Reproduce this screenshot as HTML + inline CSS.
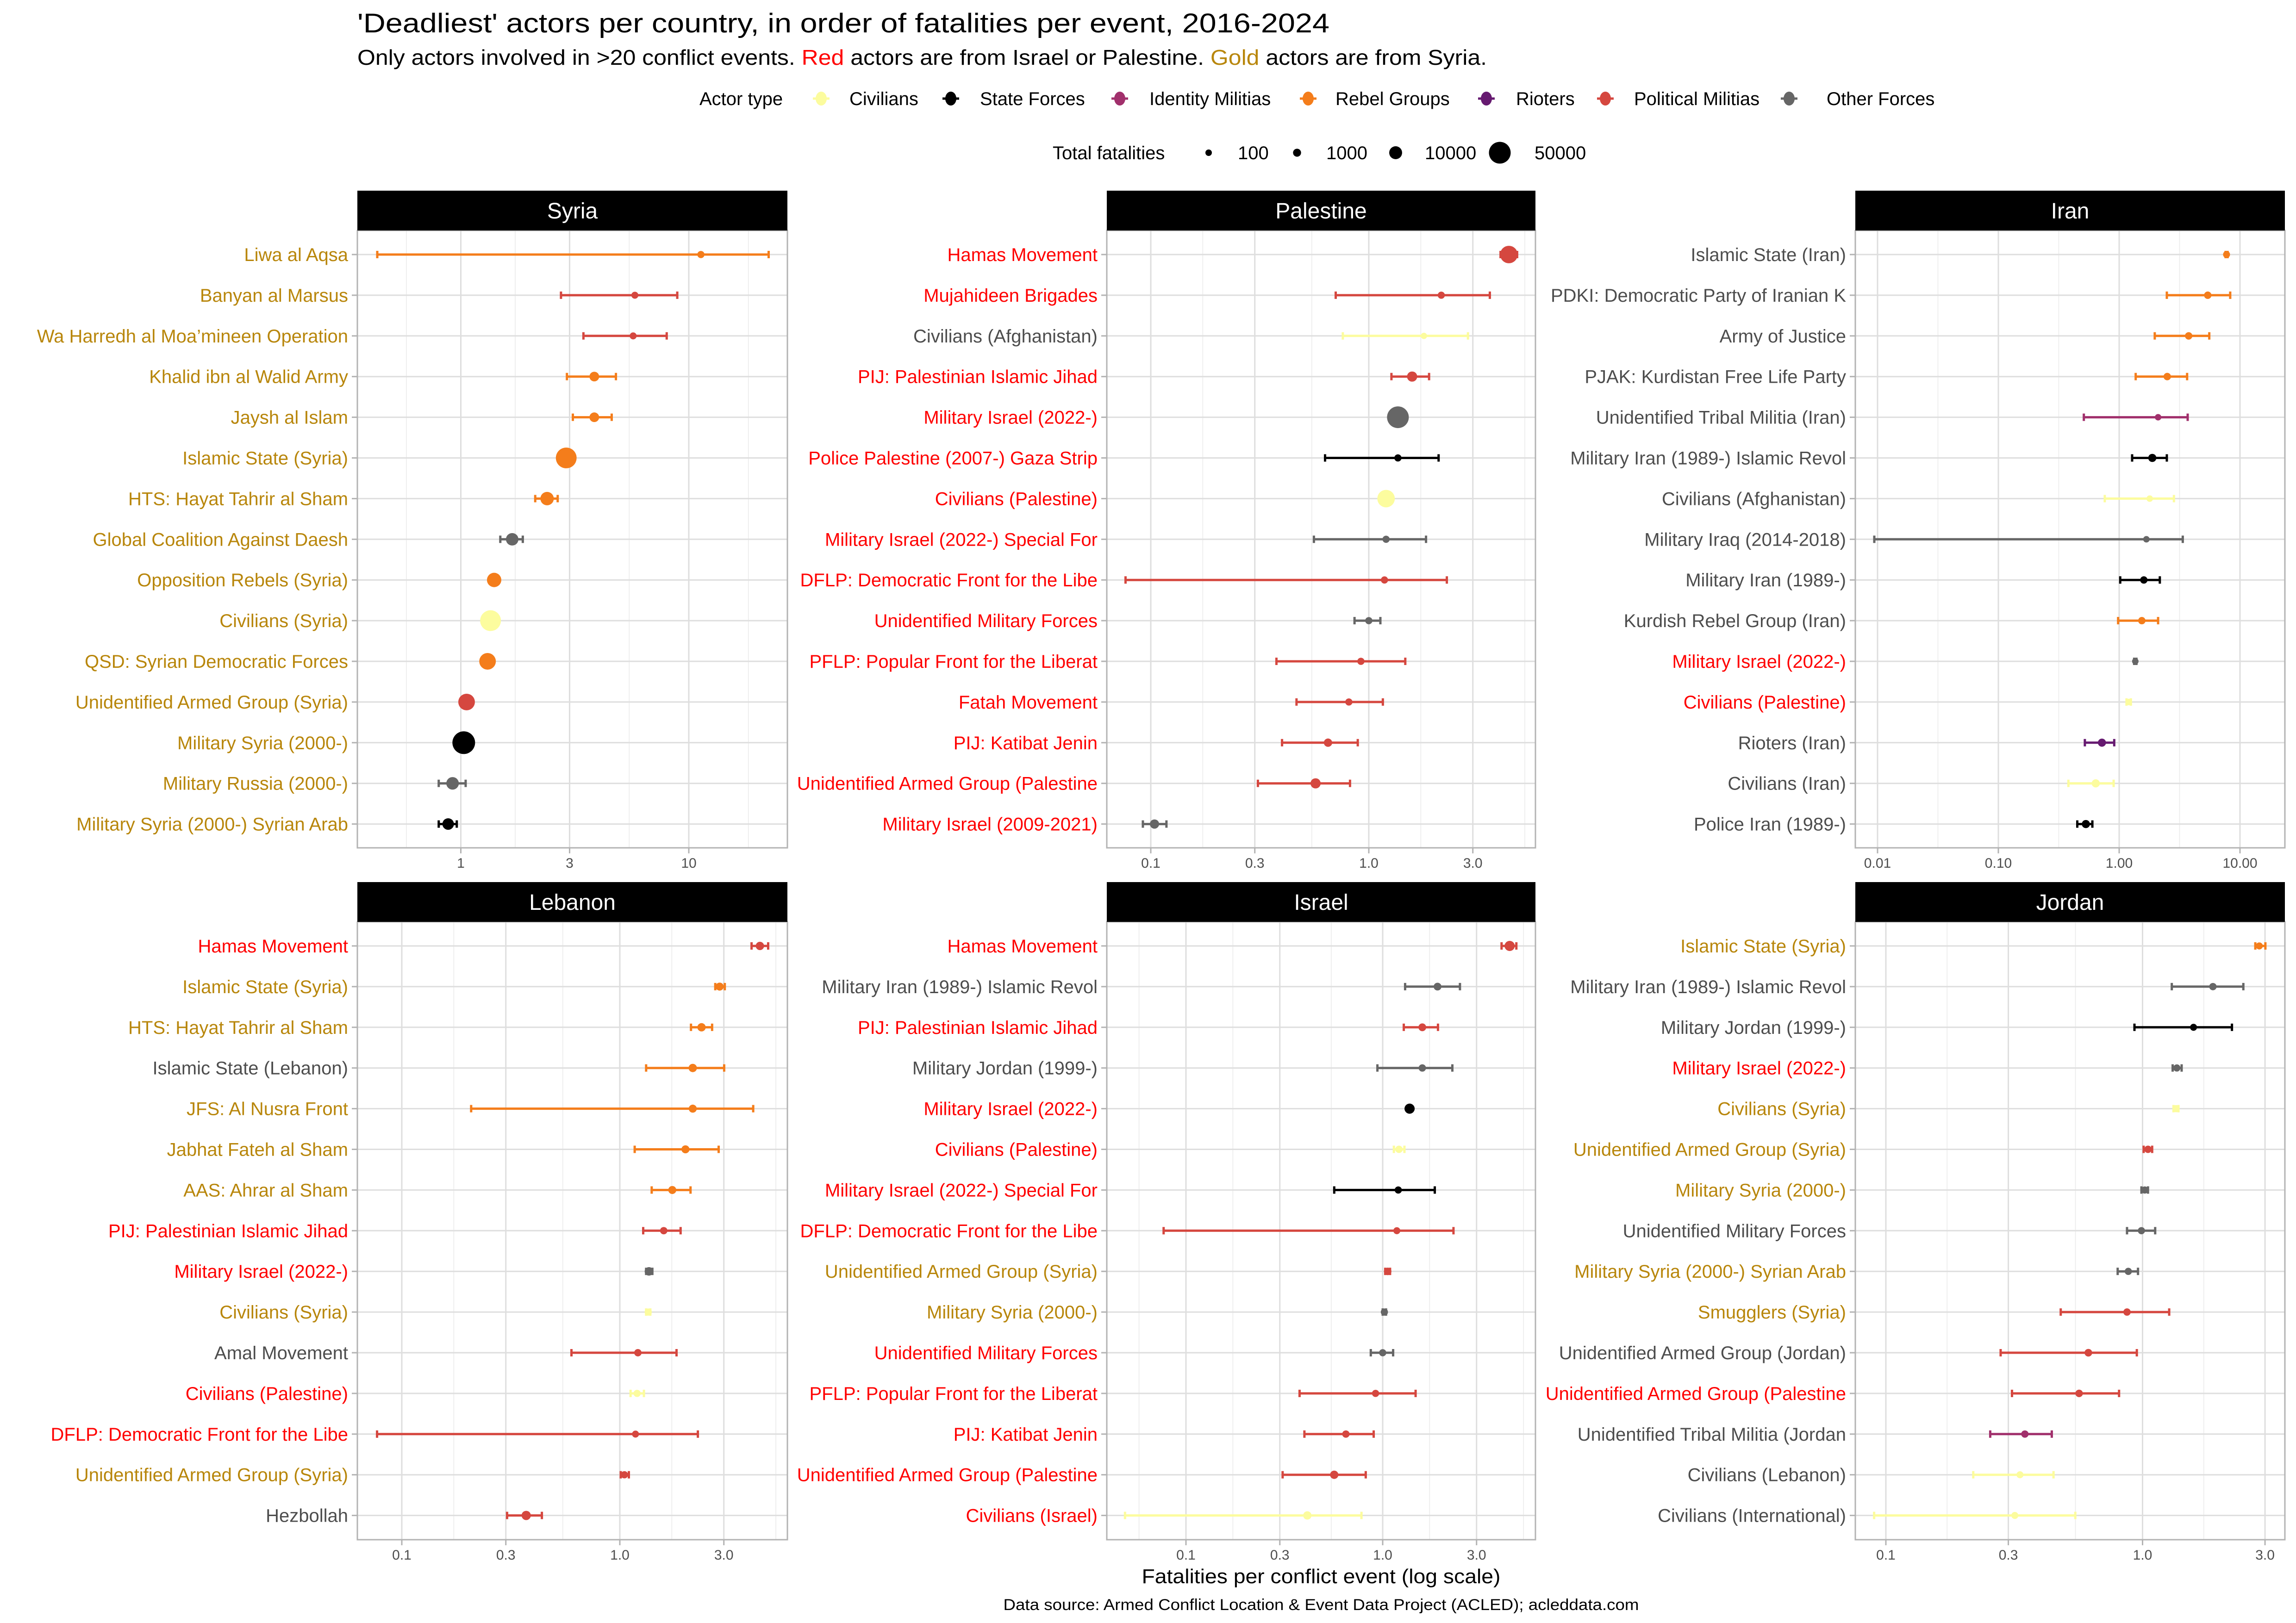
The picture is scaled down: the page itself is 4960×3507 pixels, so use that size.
<!DOCTYPE html>
<html><head><meta charset="utf-8"><title>Deadliest actors per country</title>
<style>
html,body{margin:0;padding:0;background:#fff;}
svg{display:block;font-family:"Liberation Sans",Arial,sans-serif;}
</style></head>
<body>
<svg id="chart" width="4960" height="3507" viewBox="0 0 4960 3507" xmlns="http://www.w3.org/2000/svg">
<rect width="4960" height="3507" fill="#fff"/>
<text x="772" y="70" font-size="58" fill="#000" textLength="2100" lengthAdjust="spacingAndGlyphs">'Deadliest' actors per country, in order of fatalities per event, 2016-2024</text>
<text x="772" y="140" font-size="46" fill="#000" textLength="2440" lengthAdjust="spacingAndGlyphs">Only actors involved in &gt;20 conflict events. <tspan fill="#FF0000">Red</tspan> actors are from Israel or Palestine. <tspan fill="#B8860B">Gold</tspan> actors are from Syria.</text>
<g id="legend"></g>
<g id="panels"></g>
<text x="2854" y="3421" font-size="44" text-anchor="middle" fill="#000" textLength="775" lengthAdjust="spacingAndGlyphs">Fatalities per conflict event (log scale)</text>
<text x="2854" y="3479" font-size="34" text-anchor="middle" fill="#000" textLength="1373" lengthAdjust="spacingAndGlyphs">Data source: Armed Conflict Location &amp; Event Data Project (ACLED); acleddata.com</text>
</svg>
<script>
// ---- categories ----
const actorTypes = ["Civilians","State Forces","Identity Militias","Rebel Groups","Rioters","Political Militias","Other Forces"];
const actorCodes = ["C","S","I","R","T","P","O"];
const sizeBreaks = [100,1000,10000,50000];
const sizeBreakLabels = ["100","1000","10000","50000"];

// ---- Syria ----
const syriaLabels = ["Liwa al Aqsa","Banyan al Marsus","Wa Harredh al Moa’mineen Operation ","Khalid ibn al Walid Army","Jaysh al Islam","Islamic State (Syria)","HTS: Hayat Tahrir al Sham","Global Coalition Against Daesh","Opposition Rebels (Syria)","Civilians (Syria)","QSD: Syrian Democratic Forces","Unidentified Armed Group (Syria)","Military Syria (2000-)","Military Russia (2000-)","Military Syria (2000-) Syrian Arab "];
const syriaOrigins = ["g","g","g","g","g","g","g","g","g","g","g","g","g","g","g"];
const syriaTypes = ["R","P","P","R","R","R","R","O","R","C","R","P","S","O","S"];
const syriaMeans = [11.3,5.8,5.7,3.85,3.85,2.9,2.39,1.68,1.40,1.35,1.31,1.06,1.03,0.92,0.88];
const syriaLows = [0.43,2.75,3.45,2.92,3.1,2.88,2.12,1.49,1.39,1.34,1.30,1.05,1.02,0.80,0.80];
const syriaHighs = [22.4,8.9,8.0,4.79,4.59,2.92,2.66,1.87,1.41,1.36,1.32,1.07,1.04,1.05,0.96];
const syriaFatalities = [400,300,300,3000,3000,44000,11500,8800,14500,44000,23000,23000,56000,9000,6500];
const syriaTicks = [1,3,10];
const syriaTickLabels = ["1","3","10"];

// ---- Palestine ----
const palLabels = ["Hamas Movement","Mujahideen Brigades","Civilians (Afghanistan)","PIJ: Palestinian Islamic Jihad","Military Israel (2022-)","Police Palestine (2007-) Gaza Strip","Civilians (Palestine)","Military Israel (2022-) Special For","DFLP: Democratic Front for the Libe","Unidentified Military Forces","PFLP: Popular Front for the Liberat","Fatah Movement","PIJ: Katibat Jenin","Unidentified Armed Group (Palestine","Military Israel (2009-2021)"];
const palOrigins = ["r","r","n","r","r","r","r","r","r","r","r","r","r","r","r"];
const palTypes = ["P","P","C","P","O","S","C","O","P","O","P","P","P","P","O"];
const palMeans = [4.39,2.15,1.79,1.58,1.36,1.36,1.20,1.20,1.18,1.0,0.92,0.81,0.65,0.57,0.104];
const palLows = [4.02,0.705,0.76,1.27,1.35,0.63,1.19,0.56,0.0766,0.86,0.377,0.466,0.40,0.31,0.092];
const palHighs = [4.79,3.59,2.85,1.89,1.37,2.09,1.21,1.83,2.28,1.13,1.47,1.16,0.89,0.82,0.118];
const palFatalities = [27000,400,60,3800,50000,400,27000,400,400,400,400,400,1300,3800,2400];
const palTicks = [0.1,0.3,1,3];
const palTickLabels = ["0.1","0.3","1.0","3.0"];

// ---- Iran ----
const iranLabels = ["Islamic State (Iran)","PDKI: Democratic Party of Iranian K","Army of Justice","PJAK: Kurdistan Free Life Party","Unidentified Tribal Militia (Iran)","Military Iran (1989-) Islamic Revol","Civilians (Afghanistan)","Military Iraq (2014-2018)","Military Iran (1989-)","Kurdish Rebel Group (Iran)","Military Israel (2022-)","Civilians (Palestine)","Rioters (Iran)","Civilians (Iran)","Police Iran (1989-)"];
const iranOrigins = ["n","n","n","n","n","n","n","n","n","n","r","r","n","n","n"];
const iranTypes = ["R","R","R","R","I","S","C","O","S","R","O","C","T","C","S"];
const iranMeans = [7.74,5.41,3.76,2.5,2.10,1.88,1.79,1.68,1.60,1.54,1.36,1.20,0.72,0.64,0.53];
const iranLows = [7.6,2.48,1.97,1.37,0.51,1.28,0.76,0.0094,1.02,0.98,1.33,1.15,0.52,0.38,0.45];
const iranHighs = [7.9,8.3,5.57,3.65,3.69,2.48,2.84,3.36,2.17,2.10,1.39,1.25,0.91,0.90,0.60];
const iranFatalities = [280,550,550,550,100,1100,100,100,500,500,100,100,1100,1100,1100];
const iranTicks = [0.01,0.1,1,10];
const iranTickLabels = ["0.01","0.10","1.00","10.00"];

// ---- Lebanon ----
const lebLabels = ["Hamas Movement","Islamic State (Syria)","HTS: Hayat Tahrir al Sham","Islamic State (Lebanon)","JFS: Al Nusra Front","Jabhat Fateh al Sham","AAS: Ahrar al Sham","PIJ: Palestinian Islamic Jihad","Military Israel (2022-)","Civilians (Syria)","Amal Movement","Civilians (Palestine)","DFLP: Democratic Front for the Libe","Unidentified Armed Group (Syria)","Hezbollah"];
const lebOrigins = ["r","g","g","n","g","g","g","r","r","g","n","r","r","g","n"];
const lebTypes = ["P","R","R","R","R","R","R","P","O","C","P","C","P","P","P"];
const lebMeans = [4.39,2.87,2.37,2.16,2.16,2.0,1.74,1.59,1.36,1.35,1.21,1.20,1.18,1.05,0.372];
const lebLows = [4.02,2.74,2.12,1.32,0.208,1.17,1.40,1.28,1.32,1.32,0.60,1.12,0.077,1.01,0.304];
const lebHighs = [4.79,3.03,2.65,3.01,4.09,2.84,2.11,1.90,1.41,1.38,1.82,1.29,2.28,1.10,0.439];
const lebFatalities = [1300,1000,1300,1300,1000,1000,1000,500,1500,400,500,400,300,400,2400];
const lebTicks = [0.1,0.3,1,3];
const lebTickLabels = ["0.1","0.3","1.0","3.0"];

// ---- Israel ----
const isrLabels = ["Hamas Movement","Military Iran (1989-) Islamic Revol","PIJ: Palestinian Islamic Jihad","Military Jordan (1999-)","Military Israel (2022-)","Civilians (Palestine)","Military Israel (2022-) Special For","DFLP: Democratic Front for the Libe","Unidentified Armed Group (Syria)","Military Syria (2000-)","Unidentified Military Forces","PFLP: Popular Front for the Liberat","PIJ: Katibat Jenin","Unidentified Armed Group (Palestine","Civilians (Israel)"];
const isrOrigins = ["r","n","r","n","r","r","r","r","g","g","r","r","r","r","r"];
const isrTypes = ["P","O","P","O","S","C","S","P","P","O","O","P","P","P","C"];
const isrMeans = [4.42,1.90,1.59,1.59,1.37,1.21,1.20,1.18,1.06,1.02,1.0,0.92,0.65,0.567,0.414];
const isrLows = [4.02,1.30,1.28,0.94,1.34,1.14,0.567,0.077,1.03,1.0,0.87,0.378,0.40,0.31,0.049];
const isrHighs = [4.78,2.47,1.91,2.26,1.40,1.29,1.84,2.29,1.09,1.04,1.13,1.47,0.90,0.82,0.78];
const isrFatalities = [3800,800,800,500,3800,500,400,300,600,400,400,400,500,1300,1300];
const isrTicks = [0.1,0.3,1,3];
const isrTickLabels = ["0.1","0.3","1.0","3.0"];

// ---- Jordan ----
const jorLabels = ["Islamic State (Syria)","Military Iran (1989-) Islamic Revol","Military Jordan (1999-)","Military Israel (2022-)","Civilians (Syria)","Unidentified Armed Group (Syria)","Military Syria (2000-)","Unidentified Military Forces","Military Syria (2000-) Syrian Arab ","Smugglers (Syria)","Unidentified Armed Group (Jordan)","Unidentified Armed Group (Palestine","Unidentified Tribal Militia (Jordan","Civilians (Lebanon)","Civilians (International)"];
const jorOrigins = ["g","n","n","r","g","g","g","n","g","g","n","r","n","n","n"];
const jorTypes = ["R","O","S","O","C","P","O","O","O","P","P","P","I","C","C"];
const jorMeans = [2.85,1.88,1.58,1.36,1.35,1.05,1.02,0.99,0.88,0.87,0.615,0.566,0.348,0.333,0.318];
const jorLows = [2.75,1.30,0.93,1.31,1.32,1.01,0.99,0.87,0.80,0.48,0.28,0.31,0.255,0.219,0.090];
const jorHighs = [3.01,2.47,2.23,1.42,1.38,1.09,1.05,1.12,0.96,1.27,0.95,0.81,0.443,0.45,0.547];
const jorFatalities = [300,500,300,400,400,500,400,400,400,500,700,600,500,300,300];
const jorTicks = [0.1,0.3,1,3];
const jorTickLabels = ["0.1","0.3","1.0","3.0"];

// ---- styling / layout (not data) ----
const typeColors = {C:"#FCFC9E",S:"#000000",I:"#A1306C",R:"#F47D1B",T:"#661A70",P:"#D5473F",O:"#666666"};
const originColors = {g:"#B8860B",r:"#FF0000",n:"#4D4D4D"};
const NS = "http://www.w3.org/2000/svg";
function mk(tag, attrs, parent){const e=document.createElementNS(NS,tag);for(const k in attrs)e.setAttribute(k,attrs[k]);if(parent)parent.appendChild(e);return e;}
function radius(f){return (12.45+0.1545*Math.sqrt(f))/2;}

const panels = [
 {name:"Syria",L:syriaLabels,O:syriaOrigins,T:syriaTypes,M:syriaMeans,lo:syriaLows,hi:syriaHighs,F:syriaFatalities,ticks:syriaTicks,tl:syriaTickLabels,left:772,right:1701,stripTop:412,top:498,bottom:1832,firstRow:550,xAt1:995.5,dec:492.5},
 {name:"Palestine",L:palLabels,O:palOrigins,T:palTypes,M:palMeans,lo:palLows,hi:palHighs,F:palFatalities,ticks:palTicks,tl:palTickLabels,left:2391,right:3317,stripTop:412,top:498,bottom:1832,firstRow:550,xAt1:2957,dec:471},
 {name:"Iran",L:iranLabels,O:iranOrigins,T:iranTypes,M:iranMeans,lo:iranLows,hi:iranHighs,F:iranFatalities,ticks:iranTicks,tl:iranTickLabels,left:4008,right:4936,stripTop:412,top:498,bottom:1832,firstRow:550,xAt1:4578,dec:261},
 {name:"Lebanon",L:lebLabels,O:lebOrigins,T:lebTypes,M:lebMeans,lo:lebLows,hi:lebHighs,F:lebFatalities,ticks:lebTicks,tl:lebTickLabels,left:772,right:1701,stripTop:1906,top:1992,bottom:3327,firstRow:2044,xAt1:1339,dec:471},
 {name:"Israel",L:isrLabels,O:isrOrigins,T:isrTypes,M:isrMeans,lo:isrLows,hi:isrHighs,F:isrFatalities,ticks:isrTicks,tl:isrTickLabels,left:2391,right:3317,stripTop:1906,top:1992,bottom:3327,firstRow:2044,xAt1:2987,dec:425},
 {name:"Jordan",L:jorLabels,O:jorOrigins,T:jorTypes,M:jorMeans,lo:jorLows,hi:jorHighs,F:jorFatalities,ticks:jorTicks,tl:jorTickLabels,left:4008,right:4936,stripTop:1906,top:1992,bottom:3327,firstRow:2044,xAt1:4628.5,dec:554.5}
];
const rowStep = 87.9;
const root = document.getElementById("panels");

panels.forEach(p=>{
  const g = mk("g",{},root);
  
  
  const xs = v => p.xAt1 + p.dec*Math.log10(v);
  const clip = "clip-"+p.name;
  const cp = mk("clipPath",{id:clip},g); mk("rect",{x:p.left,y:p.top,width:p.right-p.left,height:p.bottom-p.top},cp);
  const bg = mk("rect",{x:p.left,y:p.top,width:p.right-p.left,height:p.bottom-p.top,fill:"#fff"},g);
  
  
  const grid = mk("g",{"clip-path":"url(#"+clip+")"},g);
  const lt = p.ticks.map(v=>Math.log10(v));
  const step0 = lt[1]-lt[0], stepN = lt[lt.length-1]-lt[lt.length-2];
  const ext = [lt[0]-step0].concat(lt,[lt[lt.length-1]+stepN, lt[lt.length-1]+stepN+ (lt[1]-lt[0])]);
  for(let i=0;i<ext.length-1;i++){
    const mx = p.xAt1 + p.dec*(ext[i]+ext[i+1])/2;
    mk("line",{x1:mx,x2:mx,y1:p.top,y2:p.bottom,stroke:"#EBEBEB","stroke-width":1.6},grid);
  }
  ext.forEach(l=>{const x=p.xAt1+p.dec*l; mk("line",{x1:x,x2:x,y1:p.top,y2:p.bottom,stroke:"#DEDEDE","stroke-width":3},grid);});
  p.L.forEach((lab,i)=>{const y=p.firstRow+i*rowStep; mk("line",{x1:p.left,x2:p.right,y1:y,y2:y,stroke:"#DEDEDE","stroke-width":3},grid);});
  const marks = mk("g",{"clip-path":"url(#"+clip+")"},g);
  p.L.forEach((lab,i)=>{
    const y=p.firstRow+i*rowStep, c=typeColors[p.T[i]];
    const x1=xs(p.lo[i]), x2=xs(p.hi[i]), xm=xs(p.M[i]);
    const eb = mk("g",{},marks);
    
    
    mk("line",{x1:x1,x2:x2,y1:y,y2:y,stroke:c,"stroke-width":5},eb);
    mk("line",{x1:x1,x2:x1,y1:y-8,y2:y+8,stroke:c,"stroke-width":5},eb);
    mk("line",{x1:x2,x2:x2,y1:y-8,y2:y+8,stroke:c,"stroke-width":5},eb);
    const pt = mk("circle",{cx:xm,cy:y,r:radius(p.F[i]),fill:c},marks);
    
    
  });
  mk("rect",{x:p.left,y:p.top,width:p.right-p.left,height:p.bottom-p.top,fill:"none",stroke:"#B3B3B3","stroke-width":3},g);
  const st = mk("rect",{x:p.left,y:p.stripTop,width:p.right-p.left,height:p.top-p.stripTop,fill:"#000"},g);
  
  
  const stt = mk("text",{x:(p.left+p.right)/2,y:(p.stripTop+p.top)/2+17,"font-size":48,fill:"#fff","text-anchor":"middle"},g);
  stt.textContent = p.name;
  
  
  p.L.forEach((lab,i)=>{
    const y=p.firstRow+i*rowStep;
    mk("line",{x1:p.left-12,x2:p.left,y1:y,y2:y,stroke:"#B3B3B3","stroke-width":3},g);
    const t = mk("text",{x:p.left-20,y:y+14,"font-size":40,fill:originColors[p.O[i]],"text-anchor":"end","xml:space":"preserve"},g);
    t.textContent = lab;
    
    
  });
  p.ticks.forEach((v,i)=>{
    const x=xs(v);
    mk("line",{x1:x,x2:x,y1:p.bottom,y2:p.bottom+12,stroke:"#B3B3B3","stroke-width":3},g);
    const t = mk("text",{x:x,y:p.bottom+43,"font-size":30,fill:"#4D4D4D","text-anchor":"middle"},g);
    t.textContent = p.tl[i];
    
    
  });
});

const lg = document.getElementById("legend");
const t1 = mk("text",{x:1511,y:227,"font-size":40,fill:"#000"},lg); t1.textContent="Actor type";


const keyX = [1774,2054,2419,2826,3211,3468,3865];
const txtX = [1835,2117,2483,2885,3275,3530,3946];
actorTypes.forEach((a,i)=>{
  const e = mk("g",{},lg);
  
  
  const c = typeColors[actorCodes[i]];
  mk("line",{x1:keyX[i]-18,x2:keyX[i]+18,y1:213,y2:213,stroke:c,"stroke-width":5},e);
  mk("ellipse",{cx:keyX[i],cy:213,rx:12,ry:15,fill:c},e);
  const t = mk("text",{x:txtX[i],y:227,"font-size":40,fill:"#000"},e); t.textContent=a;
});
const t2 = mk("text",{x:2274,y:344,"font-size":40,fill:"#000"},lg); t2.textContent="Total fatalities";


const sKeyX=[2611,2802,3015,3240], sTxtX=[2674,2865,3078,3315];
sizeBreaks.forEach((f,i)=>{
  const e = mk("g",{},lg);
  
  
  mk("circle",{cx:sKeyX[i],cy:330,r:radius(f),fill:"#000"},e);
  const t = mk("text",{x:sTxtX[i],y:344,"font-size":40,fill:"#000"},e); t.textContent=sizeBreakLabels[i];
});
</script>
</body></html>
